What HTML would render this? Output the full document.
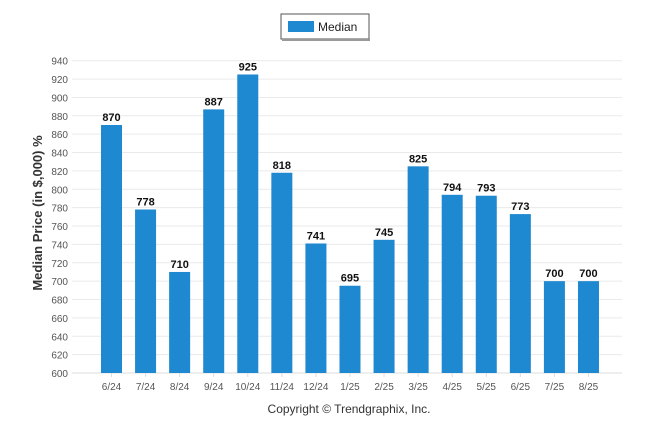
<!DOCTYPE html>
<html><head><meta charset="utf-8"><style>
body{margin:0;background:#fff;font-family:"Liberation Sans",sans-serif;}
</style></head><body>
<svg width="646" height="434" xmlns="http://www.w3.org/2000/svg">
<g>
<rect x="281" y="14" width="88" height="25" fill="#fff" stroke="#555" stroke-width="1"/>
<line x1="282" y1="40" x2="370" y2="40" stroke="#999" stroke-width="2"/>
<rect x="288" y="21" width="26" height="11" fill="#1e88d0"/>
<text x="318" y="31" font-size="12" fill="#222">Median</text>
</g>
<g id="grid"></g>
<g id="bars"></g>
<text transform="translate(42,213) rotate(-90)" text-anchor="middle" font-size="13" font-weight="bold" fill="#333">Median Price (in $,000) %</text>
<text x="349" y="413" text-anchor="middle" font-size="12" fill="#333">Copyright © Trendgraphix, Inc.</text>
</svg>
<script>
const categories=["6/24","7/24","8/24","9/24","10/24","11/24","12/24","1/25","2/25","3/25","4/25","5/25","6/25","7/25","8/25"];
const values=[870,778,710,887,925,818,741,695,745,825,794,793,773,700,700];
const ticks=[600,620,640,660,680,700,720,740,760,780,800,820,840,860,880,900,920,940];
const NS="http://www.w3.org/2000/svg";
const y=v=>373-(v-600)*(373-60.7)/340;
const x=i=>111.5+i*34.07;
const g=document.getElementById("grid"),b=document.getElementById("bars");
function mk(p,t,a,txt){const e=document.createElementNS(NS,t);for(const k in a)e.setAttribute(k,a[k]);if(txt!==undefined)e.textContent=txt;p.appendChild(e);return e;}
ticks.forEach(t=>{
const l=mk(g,"line",{x1:72,x2:622,y1:y(t),y2:y(t),stroke:t===600?"#ddd":"#eaeaea","stroke-width":1});


const tx=mk(g,"text",{x:68,y:y(t)+4,"text-anchor":"end","font-size":10,fill:"#555"},t);


});
categories.forEach((c,i)=>{
const r=mk(b,"rect",{x:x(i)-10.5,y:y(values[i]),width:21,height:373-y(values[i]),fill:"#1e88d0"});


const v=mk(b,"text",{x:x(i),y:y(values[i])-4,"text-anchor":"middle","font-size":11,"font-weight":"bold",fill:"#111"},values[i]);


const tk=mk(g,"line",{x1:x(i),x2:x(i),y1:373,y2:377,stroke:"#ddd"});


const l=mk(g,"text",{x:x(i),y:390,"text-anchor":"middle","font-size":10,fill:"#555"},c);


});
</script>
</body></html>
